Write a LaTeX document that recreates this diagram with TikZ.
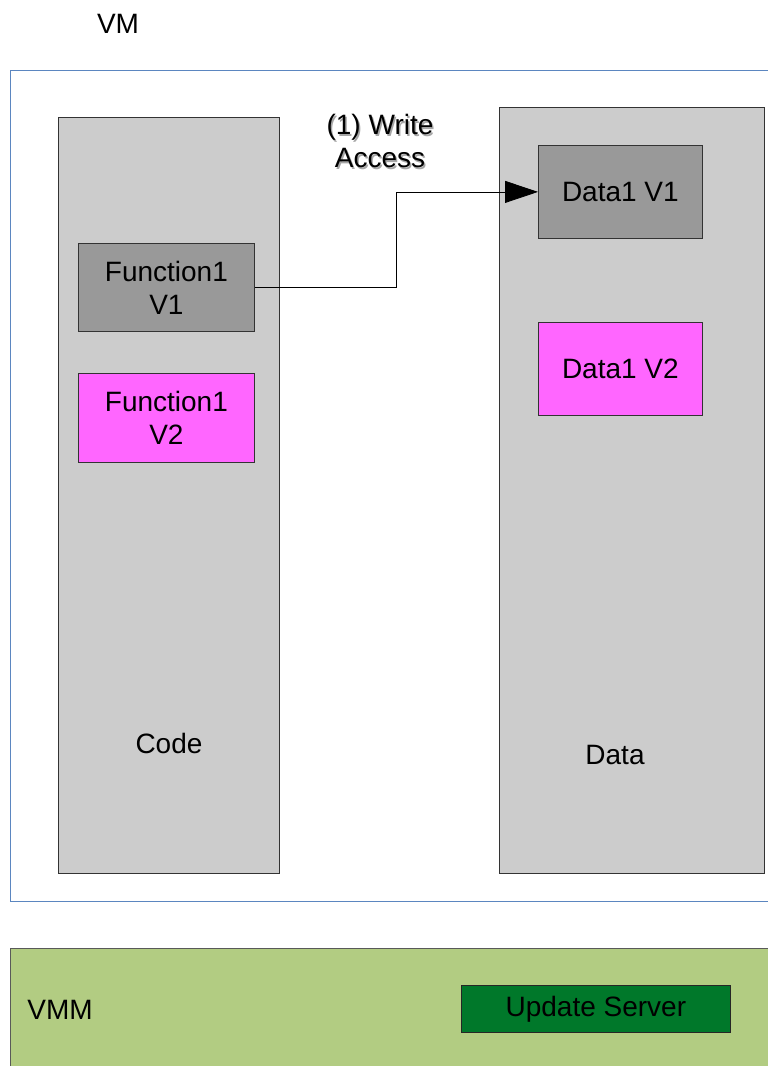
\documentclass[tikz,border=0pt]{standalone}
\usepackage{fontspec}
\setmainfont{Liberation Sans}
\usetikzlibrary{arrows.meta}

\definecolor{segfill}{HTML}{CCCCCC}
\definecolor{oldfill}{HTML}{999999}
\definecolor{newfill}{HTML}{FF66FF}
\definecolor{vmmfill}{HTML}{B2CC82}
\definecolor{srvfill}{HTML}{00782A}
\definecolor{vmblue}{HTML}{5B86C0}

\tikzset{
  segment/.style={draw=black!80, fill=segfill, line width=0.8pt, anchor=north west, inner sep=0pt},
  version/.style={draw=black!80, line width=0.8pt, anchor=north west, inner sep=0pt, align=center},
}

\begin{document}
\begin{tikzpicture}[x=1pt, y=-1pt, font=\fontsize{28}{33}\selectfont]
  \useasboundingbox (0,0) rectangle (768,1066);
  \clip (0,0) rectangle (768,1066);

  % guest side
  \node (vmlbl) at (118,24) {VM};
  \draw[vmblue, line width=0.8pt] (10,70) rectangle (800,901);

  \node[segment, minimum width=221pt, minimum height=756pt] (code) at (58,117) {};
  \node[segment, minimum width=265pt, minimum height=766pt] (data) at (499,107) {};
  \node (codelbl) at (169,743) {Code};
  \node (datalbl) at (615,755) {Data};

  % code and data versions
  \node[version, fill=oldfill, minimum width=176pt, minimum height=88pt] (f1) at (78,243) {Function1\\V1};
  \node[version, fill=newfill, minimum width=176pt, minimum height=89pt] (f2) at (78,373) {Function1\\V2};
  \node[version, fill=oldfill, minimum width=164pt, minimum height=93pt] (d1) at (538,145) {Data1 V1};
  \node[version, fill=newfill, minimum width=164pt, minimum height=93pt] (d2) at (538,322) {Data1 V2};

  % access label with its soft shadow
  \node[align=center, text=black!35] (writeshadow) at (381.5,142.5) {(1) Write\\Access};
  \node[align=center] (writelbl) at (380,141) {(1) Write\\Access};
  \draw[line width=0.8pt, -{Triangle[length=33pt, width=22pt]}] (f1.east) -- ++(142,0) |- (d1.west);

  % host side
  \node[draw=black!65, fill=vmmfill, line width=1pt, anchor=north west, minimum width=800pt, minimum height=160pt] (vmm) at (10,948) {};
  \node (vmmlbl) at (60,1010) {VMM};
  \node[draw=black!85, fill=srvfill, line width=0.8pt, anchor=north west, inner sep=0pt, minimum width=269pt, minimum height=47pt] (server) at (461,985) {Update Server};
\end{tikzpicture}
\end{document}
